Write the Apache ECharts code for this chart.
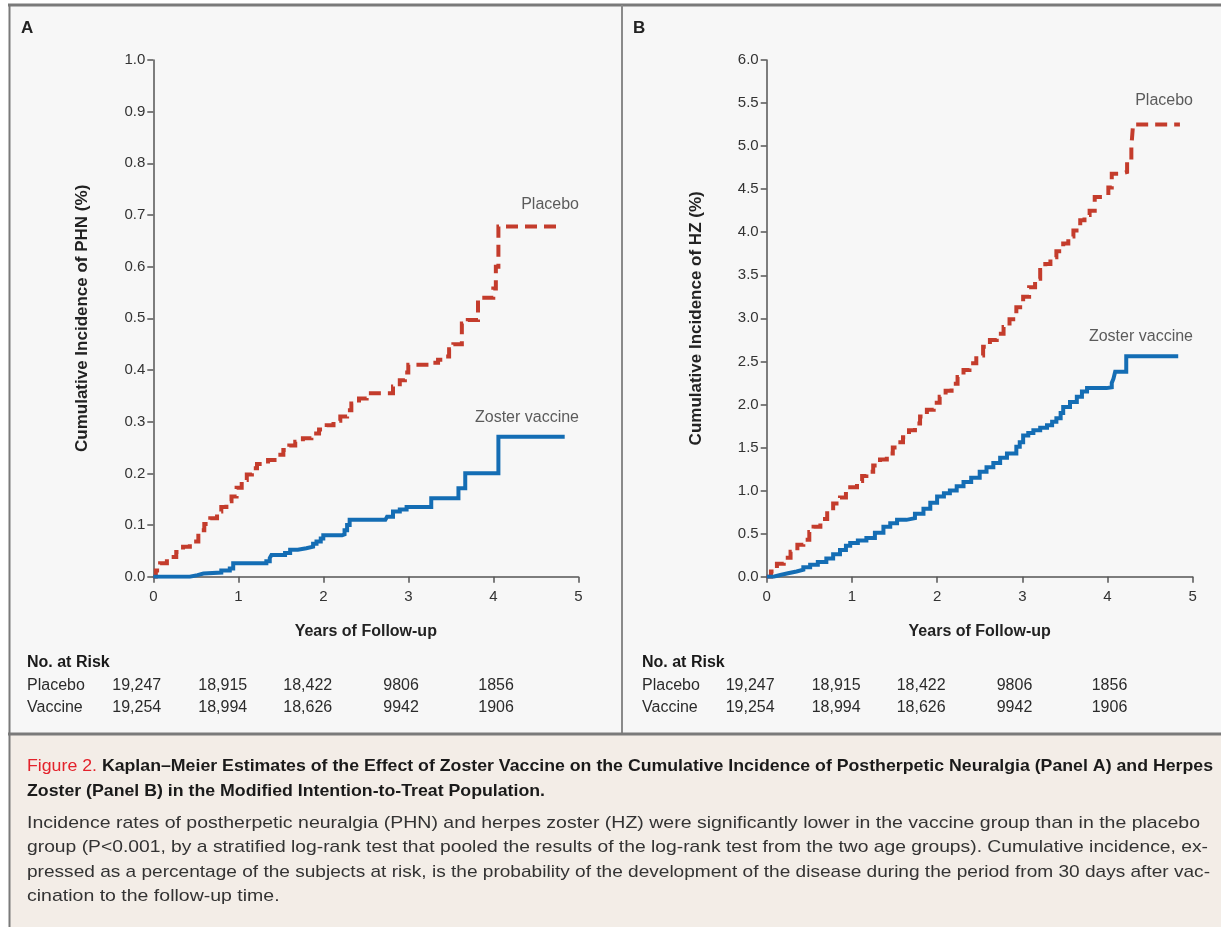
<!DOCTYPE html>
<html><head><meta charset="utf-8">
<script src="https://cdn.jsdelivr.net/npm/echarts@6/dist/echarts.min.js"></script>
<style>html,body{margin:0;padding:0;background:#fff}#c{width:1221px;height:927px}</style>
</head><body><div id="c"></div>
<script>
// ---------- DATA ----------
const xTicks = [0, 1, 2, 3, 4, 5];
const riskGroups = ['Placebo', 'Vaccine'];
const riskPlacebo = ['19,247', '18,915', '18,422', '9806', '1856'];
const riskVaccine = ['19,254', '18,994', '18,626', '9942', '1906'];

// Panel A: cumulative incidence of PHN (%), [years, %]
const phnPlacebo = [[0,0],[0.03,0.012],[0.08,0.026],[0.16,0.038],[0.27,0.048],[0.35,0.058],[0.43,0.068],[0.53,0.09],[0.60,0.102],[0.67,0.113],[0.75,0.126],[0.80,0.135],[0.86,0.146],[0.92,0.155],[0.98,0.172],[1.04,0.187],[1.10,0.198],[1.16,0.21],[1.22,0.218],[1.35,0.226],[1.45,0.236],[1.53,0.245],[1.60,0.254],[1.67,0.261],[1.76,0.268],[1.86,0.277],[1.95,0.285],[2.04,0.293],[2.12,0.302],[2.20,0.31],[2.28,0.322],[2.33,0.335],[2.42,0.345],[2.51,0.355],[2.82,0.368],[2.90,0.38],[2.96,0.395],[3.00,0.41],[3.29,0.414],[3.35,0.42],[3.42,0.426],[3.48,0.44],[3.53,0.45],[3.63,0.49],[3.70,0.497],[3.82,0.54],[4.00,0.558],[4.03,0.60],[4.06,0.678],[4.82,0.678]];
const phnVaccine = [[0,0],[0.43,0.003],[0.52,0.006],[0.59,0.008],[0.80,0.012],[0.90,0.016],[0.94,0.026],[1.33,0.03],[1.37,0.036],[1.39,0.042],[1.55,0.046],[1.61,0.052],[1.70,0.055],[1.80,0.058],[1.88,0.064],[1.92,0.068],[1.97,0.074],[2.00,0.08],[2.22,0.082],[2.25,0.09],[2.28,0.10],[2.31,0.11],[2.73,0.112],[2.75,0.116],[2.82,0.126],[2.90,0.13],[2.98,0.135],[3.27,0.152],[3.59,0.171],[3.67,0.20],[4.06,0.271],[4.84,0.271]];

// Panel B: cumulative incidence of HZ (%), [years, %]
const hzPlacebo = [[0,0],[0.05,0.06],[0.12,0.15],[0.20,0.22],[0.28,0.29],[0.36,0.37],[0.43,0.43],[0.50,0.52],[0.55,0.58],[0.63,0.67],[0.71,0.77],[0.78,0.85],[0.86,0.92],[0.93,0.99],[0.98,1.04],[1.06,1.11],[1.12,1.17],[1.17,1.22],[1.25,1.29],[1.33,1.36],[1.41,1.43],[1.48,1.50],[1.54,1.56],[1.60,1.62],[1.67,1.70],[1.74,1.78],[1.80,1.86],[1.88,1.94],[1.96,2.02],[2.03,2.09],[2.10,2.16],[2.17,2.24],[2.24,2.32],[2.31,2.40],[2.38,2.48],[2.46,2.57],[2.54,2.67],[2.62,2.75],[2.70,2.82],[2.78,2.90],[2.85,2.99],[2.93,3.13],[3.01,3.25],[3.08,3.36],[3.15,3.46],[3.21,3.56],[3.27,3.63],[3.33,3.71],[3.40,3.78],[3.48,3.87],[3.54,3.95],[3.60,4.02],[3.68,4.14],[3.73,4.20],[3.79,4.25],[3.85,4.41],[3.95,4.43],[4.01,4.52],[4.05,4.68],[4.15,4.70],[4.23,4.83],[4.28,4.99],[4.30,5.25],[4.85,5.25]];
const hzVaccine = [[0,0],[0.08,0.02],[0.16,0.04],[0.25,0.06],[0.35,0.08],[0.43,0.11],[0.51,0.14],[0.60,0.17],[0.70,0.21],[0.78,0.26],[0.86,0.31],[0.93,0.36],[0.98,0.39],[1.07,0.42],[1.17,0.45],[1.27,0.51],[1.37,0.58],[1.45,0.62],[1.53,0.66],[1.64,0.68],[1.74,0.73],[1.84,0.79],[1.92,0.86],[2.00,0.93],[2.08,0.97],[2.15,1.00],[2.23,1.05],[2.31,1.10],[2.40,1.15],[2.50,1.22],[2.58,1.27],[2.66,1.32],[2.74,1.38],[2.82,1.43],[2.93,1.51],[2.97,1.56],[3.01,1.64],[3.07,1.67],[3.13,1.70],[3.21,1.73],[3.29,1.76],[3.35,1.80],[3.40,1.84],[3.45,1.90],[3.48,1.97],[3.56,2.03],[3.64,2.09],[3.70,2.15],[3.76,2.19],[3.99,2.20],[4.05,2.25],[4.07,2.30],[4.09,2.38],[4.22,2.56],[4.83,2.56]];

// curve labels: [text, x, y] anchor (right edge of text)
const labelsA = [['Placebo', 5.02, 0.72], ['Zoster vaccine', 5.02, 0.307]];
const labelsB = [['Placebo', 5.015, 5.53], ['Zoster vaccine', 5.015, 2.79]];

const captionTitle1Red = 'Figure 2.';
const captionTitle1 = 'Kaplan–Meier Estimates of the Effect of Zoster Vaccine on the Cumulative Incidence of Postherpetic Neuralgia (Panel A) and Herpes';
const captionTitle2 = 'Zoster (Panel B) in the Modified Intention-to-Treat Population.';
const captionBody = [
  'Incidence rates of postherpetic neuralgia (PHN) and herpes zoster (HZ) were significantly lower in the vaccine group than in the placebo',
  'group (P<0.001, by a stratified log-rank test that pooled the results of the log-rank test from the two age groups). Cumulative incidence, ex-',
  'pressed as a percentage of the subjects at risk, is the probability of the development of the disease during the period from 30 days after vac-',
  'cination to the follow-up time.'
];

// ---------- STYLE / LAYOUT ----------
const FONT = '"Liberation Sans", Arial, sans-serif';
const RED = '#c43c2c', BLUE = '#146db4', AX = '#555', TXT = '#2b2b2b';
const chart = echarts.init(document.getElementById('c'), null, {renderer: 'canvas'});
const ctx = document.createElement('canvas').getContext('2d');
function tw(t, f) { ctx.font = f; return ctx.measureText(t).width; }

function xAx(gi) {
  return {gridIndex: gi, type: 'value', min: 0, max: 5, interval: 1,
    name: 'Years of Follow-up', nameLocation: 'middle', nameGap: 47,
    nameTextStyle: {fontFamily: FONT, fontWeight: 'bold', fontSize: 16, color: '#222'},
    axisLine: {show: true, onZero: false, lineStyle: {color: AX, width: 1.5}},
    axisTick: {show: true, length: 6, lineStyle: {color: AX, width: 1.5}},
    axisLabel: {fontFamily: FONT, fontSize: 15, color: '#333', margin: 13},
    splitLine: {show: false}};
}
function yAx(gi, max, interval, name) {
  return {gridIndex: gi, type: 'value', min: 0, max: max, interval: interval,
    name: name, nameLocation: 'middle', nameGap: 62, nameRotate: 90,
    nameTextStyle: {fontFamily: FONT, fontWeight: 'bold', fontSize: 17, color: '#222'},
    axisLine: {show: true, onZero: false, lineStyle: {color: AX, width: 1.5}},
    axisTick: {show: true, length: 6, lineStyle: {color: AX, width: 1.5}},
    axisLabel: {fontFamily: FONT, fontSize: 15, color: '#333', margin: 8, formatter: v => v.toFixed(1)},
    splitLine: {show: false}};
}
function stepSeries(gi, data, color, dashed) {
  return {type: 'line', xAxisIndex: gi, yAxisIndex: gi, data: data, step: 'end',
    showSymbol: false, symbol: 'none', animation: false, z: dashed ? 3 : 4,
    lineStyle: {color: color, width: 4, type: dashed ? [12, 7] : 'solid', cap: 'butt', join: 'miter'}};
}
function labelSeries(gi, labels) {
  return {type: 'scatter', xAxisIndex: gi, yAxisIndex: gi, symbolSize: 2, silent: true, animation: false,
    clip: false, itemStyle: {color: 'rgba(0,0,0,0)'}, z: 10,
    data: labels.map(l => ({value: [l[1], l[2]], name: l[0]})),
    label: {show: true, position: 'left', distance: 0, formatter: p => p.name,
      fontFamily: FONT, fontSize: 16, color: '#333'},
    labelLayout: {hideOverlap: false}};
}

// graphic: backgrounds, borders, panel letters, at-risk table, caption
const g = [];
g.push({type: 'rect', z: -100, shape: {x: 9, y: 5, width: 1212, height: 729}, style: {fill: '#f7f7f7'}});
g.push({type: 'rect', z: -100, shape: {x: 9, y: 734, width: 1212, height: 193}, style: {fill: '#f3ede7'}});
g.push({type: 'line', z: 50, shape: {x1: 8, y1: 5, x2: 1221, y2: 5}, style: {stroke: '#7a7a7a', lineWidth: 3}});
g.push({type: 'line', z: 50, shape: {x1: 9.5, y1: 5, x2: 9.5, y2: 927}, style: {stroke: '#7a7a7a', lineWidth: 2}});
g.push({type: 'line', z: 50, shape: {x1: 622, y1: 5, x2: 622, y2: 734}, style: {stroke: '#8a8a8a', lineWidth: 2}});
g.push({type: 'line', z: 50, shape: {x1: 8, y1: 734, x2: 1221, y2: 734}, style: {stroke: '#7a7a7a', lineWidth: 3}});
g.push({type: 'text', x: 21, y: 28, style: {text: 'A', font: 'bold 17px ' + FONT, fill: '#222', textVerticalAlign: 'middle'}});
g.push({type: 'text', x: 633, y: 28, style: {text: 'B', font: 'bold 17px ' + FONT, fill: '#222', textVerticalAlign: 'middle'}});

const colOffsets = [-41, 45, 130, 230, 325]; // left edge of each column relative to axis origin
[[27, 153.3], [642, 766.7]].forEach(([lx, ox]) => {
  g.push({type: 'text', x: lx, y: 663, style: {text: 'No. at Risk', font: 'bold 16px ' + FONT, fill: '#1a1a1a', textVerticalAlign: 'middle'}});
  [riskPlacebo, riskVaccine].forEach((row, ri) => {
    const yy = 686 + ri * 22;
    g.push({type: 'text', x: lx, y: yy, style: {text: riskGroups[ri], font: '16px ' + FONT, fill: TXT, textVerticalAlign: 'middle'}});
    row.forEach((v, ci) => {
      g.push({type: 'text', x: ox + colOffsets[ci], y: yy, style: {text: v, font: '16px ' + FONT, fill: TXT, textVerticalAlign: 'middle'}});
    });
  });
});

// caption
const fRed = '17px ' + FONT, fBold = 'bold 17px ' + FONT, fBody = '17px ' + FONT;
const t1w = tw(captionTitle1Red + ' ', fRed) + tw(captionTitle1, fBold);
const sT = (1213 - 27) / t1w;
g.push({type: 'text', x: 27, y: 766, scaleX: sT, originX: 0, originY: 0,
  style: {text: '{r|' + captionTitle1Red + ' }{b|' + captionTitle1 + '}', textVerticalAlign: 'middle',
    rich: {r: {font: fRed, fill: '#e3222b'}, b: {font: fBold, fill: '#1a1a1a'}}}});
g.push({type: 'text', x: 27, y: 791, scaleX: sT, originX: 0, originY: 0,
  style: {text: captionTitle2, font: fBold, fill: '#1a1a1a', textVerticalAlign: 'middle'}});
const bodyEnds = [1200, 1208, 1210, null];
const sB0 = (bodyEnds[0] - 27) / tw(captionBody[0], fBody);
captionBody.forEach((line, i) => {
  const s = bodyEnds[i] ? (bodyEnds[i] - 27) / tw(line, fBody) : sB0;
  g.push({type: 'text', x: 27, y: 823 + i * 24.5, scaleX: s, originX: 0, originY: 0,
    style: {text: line, font: fBody, fill: '#333', textVerticalAlign: 'middle'}});
});

chart.setOption({
  animation: false,
  backgroundColor: '#ffffff',
  grid: [
    {left: 153.3, top: 60, width: 425, height: 516.7, show: false},
    {left: 766.7, top: 60, width: 426, height: 516.7, show: false}
  ],
  xAxis: [xAx(0), xAx(1)],
  yAxis: [yAx(0, 1.0, 0.1, 'Cumulative Incidence of PHN (%)'), yAx(1, 6.0, 0.5, 'Cumulative Incidence of HZ (%)')],
  series: [
    stepSeries(0, phnPlacebo, RED, true),
    stepSeries(0, phnVaccine, BLUE, false),
    stepSeries(1, hzPlacebo, RED, true),
    stepSeries(1, hzVaccine, BLUE, false),
    labelSeries(0, labelsA),
    labelSeries(1, labelsB)
  ],
  graphic: {elements: g}
});
</script></body></html>
